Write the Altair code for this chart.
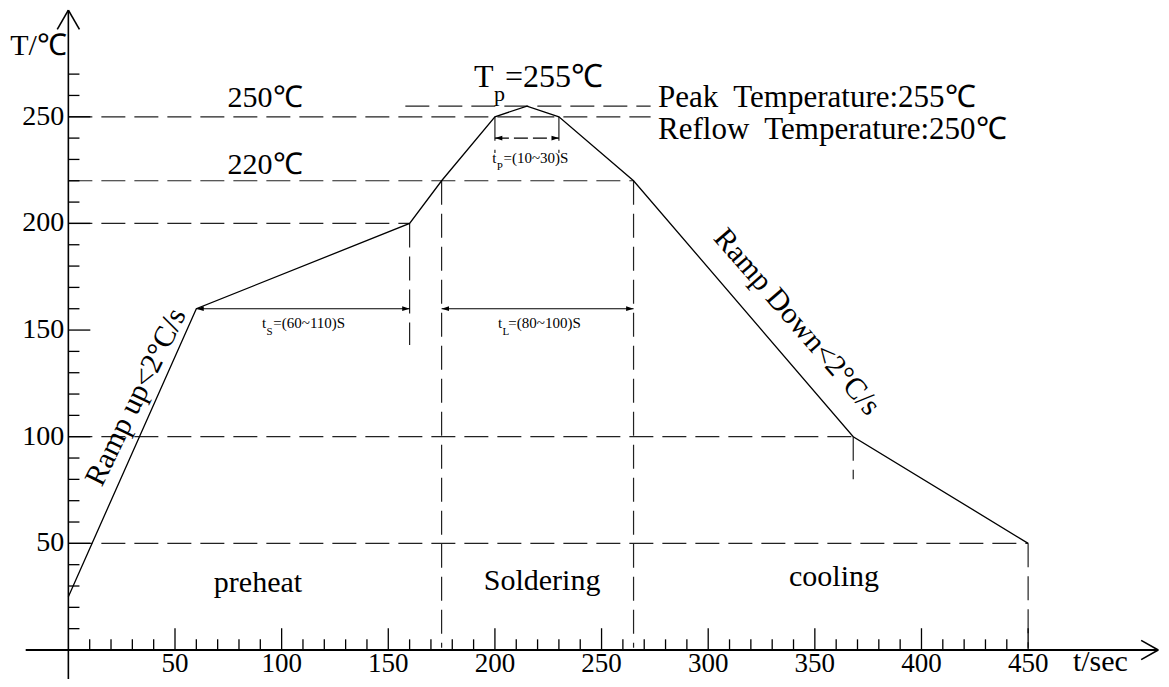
import altair as alt
import pandas as pd

# ---------------- data ----------------
time_s = [0, 60, 160, 175, 200, 215, 230, 265, 368, 450]
temp_c = [25, 160, 200, 220, 250, 255, 250, 220, 100, 50]

x_major = [50, 100, 150, 200, 250, 300, 350, 400, 450]
x_minor = [10, 20, 30, 40, 60, 70, 80, 90, 110, 120, 130, 140, 160, 170, 180, 190,
           210, 220, 230, 240, 260, 270, 280, 290, 310, 320, 330, 340, 360, 370, 380,
           390, 410, 420, 430, 440]
y_major = [50, 100, 150, 200, 250]
y_minor = [10, 20, 30, 40, 60, 70, 80, 90, 110, 120, 130, 140, 160, 170, 180, 190,
           210, 220, 230, 240, 260, 270]

# guide lines (dashed): start and end points in data units
guide_x1 = [0, 158, 0, 0, 0, 0, 160, 175, 265, 450, 368, 200, 230]
guide_y1 = [250, 255, 220, 200, 100, 50, 200, 220, 220, 50, 100, 250, 250]
guide_x2 = [273, 273, 265, 160, 368, 450, 160, 175, 265, 450, 368, 200, 230]
guide_y2 = [250, 255, 220, 200, 100, 50, 143, 1, 1, 1, 80, 233, 233]

# dimension lines (t_S, t_L solid; t_P dashed)
dim_x1 = [60, 175]
dim_x2 = [160, 265]
dim_y = [160, 160]
tp_x1, tp_x2, tp_y = [200], [230], [240]

# ---------------- frame ----------------
W, H = 1153, 671
XMIN, XMAX = -28.3, 512.3
YMIN, YMAX = -13.6, 301.0
FONT = "Liberation Serif"

xs = alt.Scale(domain=[XMIN, XMAX], nice=False, zero=False)
ys = alt.Scale(domain=[YMIN, YMAX], nice=False, zero=False)


def X(f="x"):
    return alt.X(f"{f}:Q", scale=xs, axis=None)


def Y(f="y"):
    return alt.Y(f"{f}:Q", scale=ys, axis=None)


def seg(df, **kw):
    return alt.Chart(df).mark_rule(**kw).encode(
        x=X("x"), y=Y("y"), x2=alt.X2("x2"), y2=alt.Y2("y2"))


def txt(df, **kw):
    return alt.Chart(df).mark_text(font=FONT, color="black", **kw).encode(
        x=X("x"), y=Y("y"), text="t:N")


# axes lines and arrows
axis_df = pd.DataFrame({
    "x":  [0, 0, 0, 511, 511],
    "y":  [YMIN, 300, 300, 0, 0],
    "x2": [0, -5.2, 5.2, 503, 503],
    "y2": [300, 291, 291, 4.5, -4.5],
})
axes = seg(axis_df, color="black", strokeWidth=1.6)
xaxis_thick = seg(pd.DataFrame({"x": [-20], "y": [0], "x2": [511], "y2": [0]}),
                  color="black", strokeWidth=2.2)

# ticks
xt = pd.DataFrame({
    "x": x_major + x_minor,
    "y": [0] * (len(x_major) + len(x_minor)),
    "x2": x_major + x_minor,
    "y2": [10.2] * len(x_major) + [5.0] * len(x_minor),
})
yt = pd.DataFrame({
    "x": [0] * (len(y_major) + len(y_minor)),
    "y": y_major + y_minor,
    "x2": [10.3] * len(y_major) + [5.2] * len(y_minor),
    "y2": y_major + y_minor,
})
ticks = seg(xt, color="black", strokeWidth=1.3) + seg(yt, color="black", strokeWidth=1.3)

xlab = txt(pd.DataFrame({"x": x_major, "y": [0] * len(x_major),
                         "t": [str(v) for v in x_major]}),
           fontSize=27, align="center", baseline="alphabetic", dy=22.5)
ylab = txt(pd.DataFrame({"x": [0] * len(y_major), "y": y_major,
                         "t": [str(v) for v in y_major]}),
           fontSize=28, align="right", baseline="middle", dx=-4)

# guides
guides = seg(pd.DataFrame({"x": guide_x1, "y": guide_y1, "x2": guide_x2, "y2": guide_y2}),
             color="#222222", strokeWidth=1.2, strokeDash=[24, 9])

# dimension lines
dims = seg(pd.DataFrame({"x": dim_x1, "y": dim_y, "x2": dim_x2, "y2": dim_y}),
           color="black", strokeWidth=1.1)
tpdim = seg(pd.DataFrame({"x": tp_x1, "y": tp_y, "x2": tp_x2, "y2": tp_y}),
            color="black", strokeWidth=1.1, strokeDash=[14, 5])
left_heads = alt.Chart(pd.DataFrame({"x": dim_x1 + tp_x1, "y": dim_y + tp_y})).mark_point(
    shape="M0,0L1,-0.32L1,0.32Z", filled=True, size=220, color="black", opacity=1
).encode(x=X(), y=Y())
right_heads = alt.Chart(pd.DataFrame({"x": dim_x2 + tp_x2, "y": dim_y + tp_y})).mark_point(
    shape="M0,0L-1,-0.32L-1,0.32Z", filled=True, size=220, color="black", opacity=1
).encode(x=X(), y=Y())

# profile curve
curve = alt.Chart(pd.DataFrame({"x": time_s, "y": temp_c})).mark_line(
    color="black", strokeWidth=1.3).encode(x=X(), y=Y(), order="x:Q")

# annotations
center_lbl = txt(pd.DataFrame({
    "t": ["250℃", "220℃", "preheat", "Soldering", "cooling"],
    "x": [92.2, 92.2, 88.9, 222.1, 359.0],
    "y": [258.8, 227.4, 31.4, 32.3, 34.2],
}), fontSize=30, align="center", baseline="middle")

right_lbl = txt(pd.DataFrame({
    "t": ["Peak\u00a0 Temperature:255℃", "Reflow\u00a0 Temperature:250℃"],
    "x": [276.5, 276.5],
    "y": [258.8, 243.8],
}), fontSize=31, align="left", baseline="middle")

axis_titles = txt(pd.DataFrame({
    "t": ["T/℃", "t/sec"],
    "x": [-27.3, 471.0],
    "y": [283.2, -5.6],
}), fontSize=30, align="left", baseline="middle")

tp_main = txt(pd.DataFrame({"t": ["T", "=255℃"], "x": [190.2, 204.7], "y": [268.5, 268.5]}),
              fontSize=32, align="left", baseline="middle")
tp_sub = txt(pd.DataFrame({"t": ["p"], "x": [199.6], "y": [260.5]}),
             fontSize=22, align="left", baseline="middle")

small_main = txt(pd.DataFrame({
    "t": ["t", "t", "t"],
    "x": [90.8, 201.5, 198.8],
    "y": [153.3, 153.3, 230.7],
}), fontSize=15, align="left", baseline="middle")
small_sub = txt(pd.DataFrame({
    "t": ["S", "L", "P"],
    "x": [92.9, 203.6, 200.9],
    "y": [151.8, 151.8, 229.2],
}), fontSize=11, align="left", baseline="top")
small_rest = txt(pd.DataFrame({
    "t": ["=(60~110)S", "=(80~100)S", "=(10~30)S"],
    "x": [96.1, 206.3, 204.0],
    "y": [153.3, 153.3, 230.7],
}), fontSize=15, align="left", baseline="middle")

ramp_up = txt(pd.DataFrame({"t": ["Ramp up<2°C/s"], "x": [31.7], "y": [118.6]}),
              fontSize=30, align="center", baseline="middle", angle=296)
ramp_down = txt(pd.DataFrame({"t": ["Ramp Down<2°C/s"], "x": [341.6], "y": [153.8]}),
                fontSize=30, align="center", baseline="middle", angle=49)

chart = alt.layer(
    guides, dims, tpdim, left_heads, right_heads, ticks, axes, xaxis_thick, curve,
    xlab, ylab, center_lbl, right_lbl, axis_titles, tp_main, tp_sub,
    small_main, small_sub, small_rest, ramp_up, ramp_down,
).properties(
    width=W, height=H, padding=0, autosize=alt.AutoSizeParams(type="none"),
    background="white",
).configure_view(stroke=None)

chart.save("out.html", embed_options={"renderer": "svg", "actions": False})
